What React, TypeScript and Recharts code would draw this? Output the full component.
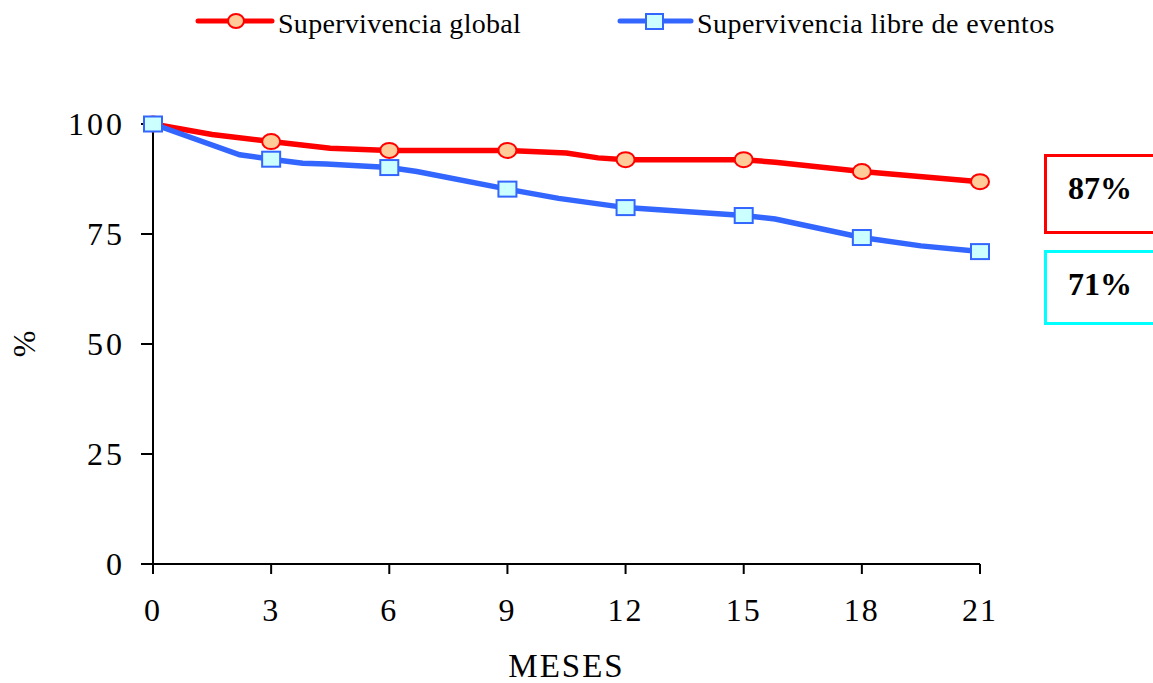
import React from 'react';
import { LineChart, Line, XAxis, YAxis, Legend } from 'recharts';

// curva de supervivencia global (meses, %)
const globalMonths = [0, 1.5, 3, 4.5, 6, 9, 10.5, 11.3, 12, 15, 15.8, 18, 21];
const globalValues = [100, 97.6, 96, 94.5, 94, 94, 93.4, 92.3, 91.9, 91.9, 91.3, 89.2, 86.9];

// supervivencia libre de eventos
const efsMonths = [0, 2.2, 3, 3.8, 4.4, 6, 6.7, 9, 10.3, 12, 15, 15.8, 18, 19.5, 21];
const efsValues = [100, 93, 92, 91.1, 90.9, 90.1, 89.2, 85.2, 83.1, 81, 79.2, 78.4, 74.2, 72.3, 71];

const xTicks = [0, 3, 6, 9, 12, 15, 18, 21];
const yTicks = [0, 25, 50, 75, 100];
const finalLabels = ['87%', '71%'];

const FONT = '"Liberation Serif", "Times New Roman", serif';
const RED = '#FF0000';
const BLUE = '#3366FF';

const globalData = globalMonths.map((m, i) => ({ month: m, value: globalValues[i] }));
const efsData = efsMonths.map((m, i) => ({ month: m, value: efsValues[i] }));

const isMarker = (m: number) => xTicks.includes(m);

const CircleDot = (props: any) => {
    const { cx, cy, payload } = props;
    if (!isMarker(payload.month)) return null;
    return <ellipse key={`c-${payload.month}`} cx={cx} cy={cy} rx={9} ry={7.5} fill="#FFCC99" stroke={RED} strokeWidth={2} />;
};

const SquareDot = (props: any) => {
    const { cx, cy, payload } = props;
    if (!isMarker(payload.month)) return null;
    return <rect key={`s-${payload.month}`} x={cx - 9} y={cy - 7.5} width={18} height={15} fill="#CCFFFF" stroke={BLUE} strokeWidth={2} />;
};

const LegendContent = () => (
    <svg width={1153} height={45} style={{ display: 'block' }}>
        <line x1={198} y1={21} x2={272} y2={21} stroke={RED} strokeWidth={5} strokeLinecap="round" />
        <ellipse cx={236} cy={21} rx={8} ry={7} fill="#FFCC99" stroke={RED} strokeWidth={2} />
        <text x={278} y={33} fontFamily={FONT} fontSize={28} fill="#000" style={{ letterSpacing: 0.3 }}>Supervivencia global</text>
        <line x1={620} y1={21} x2={691} y2={21} stroke={BLUE} strokeWidth={5} strokeLinecap="round" />
        <rect x={646} y={14} width={17} height={15} fill="#CCFFFF" stroke={BLUE} strokeWidth={2} />
        <text x={697} y={33} fontFamily={FONT} fontSize={28} fill="#000" style={{ letterSpacing: 0.45 }}>Supervivencia libre de eventos</text>
    </svg>
);

const boxStyle = (color: string, top: number, height: number, padBottom: number): React.CSSProperties => ({
    position: 'absolute',
    left: 1044,
    top,
    width: 130,
    height,
    border: `3.5px solid ${color}`,
    boxSizing: 'border-box',
    fontFamily: FONT,
    fontWeight: 'bold',
    fontSize: 32,
    color: '#000',
    display: 'flex',
    alignItems: 'center',
    paddingLeft: 21,
    paddingBottom: padBottom,
});

const App: React.FC = () => {
    return (
        <div style={{ position: 'absolute', left: 0, top: 0, width: 1153, height: 683, background: '#fff', overflow: 'hidden' }}>
            <LineChart width={1153} height={683} margin={{ top: 124, right: 173, bottom: 0, left: 0 }}>
                <XAxis
                    dataKey="month"
                    type="number"
                    domain={[0, 21]}
                    ticks={xTicks}
                    height={119}
                    axisLine={{ stroke: '#000', strokeWidth: 2 }}
                    tickLine={{ stroke: '#000', strokeWidth: 2 }}
                    tickSize={10}
                    tickMargin={24}
                    tick={{ fill: '#000', fontSize: 32, fontFamily: FONT, style: { letterSpacing: 2 } }}
                    label={{
                        value: 'MESES',
                        position: 'insideBottom',
                        offset: 6,
                        fill: '#000',
                        style: { fontSize: 33, fontFamily: FONT, letterSpacing: 2 },
                    }}
                />
                <YAxis
                    type="number"
                    domain={[0, 100]}
                    ticks={yTicks}
                    width={153}
                    axisLine={{ stroke: '#000', strokeWidth: 2 }}
                    tickLine={{ stroke: '#000', strokeWidth: 2 }}
                    tickSize={12}
                    tickMargin={16}
                    tick={{ fill: '#000', fontSize: 32, fontFamily: FONT, style: { letterSpacing: 3 } }}
                    label={{
                        value: '%',
                        angle: -90,
                        position: 'insideLeft',
                        offset: 24,
                        fill: '#000',
                        style: { textAnchor: 'middle', fontSize: 32, fontFamily: FONT },
                    }}
                />
                <Legend
                    layout="horizontal"
                    verticalAlign="middle"
                    align="center"
                    content={<LegendContent />}
                    wrapperStyle={{ top: 0, left: 0, width: 1153, height: 45 }}
                />
                <Line
                    data={globalData}
                    dataKey="value"
                    name="Supervivencia global"
                    type="linear"
                    stroke={RED}
                    strokeWidth={5.5}
                    dot={<CircleDot />}
                    activeDot={false}
                    isAnimationActive={false}
                />
                <Line
                    data={efsData}
                    dataKey="value"
                    name="Supervivencia libre de eventos"
                    type="linear"
                    stroke={BLUE}
                    strokeWidth={5.5}
                    dot={<SquareDot />}
                    activeDot={false}
                    isAnimationActive={false}
                />
            </LineChart>
            <div style={boxStyle(RED, 154, 80, 12)}>{finalLabels[0]}</div>
            <div style={boxStyle('#00FFFF', 250, 75, 7)}>{finalLabels[1]}</div>
        </div>
    );
};

export default App;
